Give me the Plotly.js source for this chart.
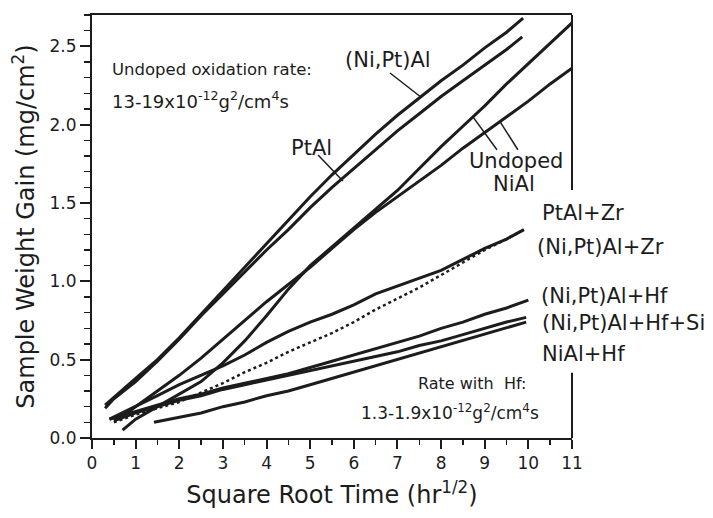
<!DOCTYPE html>
<html>
<head>
<meta charset="utf-8">
<script src="https://cdn.plot.ly/plotly-3.0.1.min.js"></script>
<style>html,body{margin:0;padding:0;background:#fff;}#chart{width:713px;height:518px;}</style>
</head>
<body>
<div id="chart"></div>
<script>
// (Ni,Pt)Al
const nptalX = [0.3,0.5,1,1.5,2,2.5,3,3.5,4,4.5,5,5.5,6,6.5,7,7.5,8,8.5,9,9.5,9.88];
const nptalY = [0.21,0.26,0.38,0.5,0.64,0.79,0.94,1.09,1.24,1.39,1.54,1.68,1.81,1.94,2.06,2.17,2.28,2.38,2.49,2.59,2.68];
// PtAl
const ptalX = [0.3,0.5,1,1.5,2,2.5,3,3.5,4,4.5,5,5.5,6,6.5,7,7.5,8,8.5,9,9.5,9.86];
const ptalY = [0.19,0.25,0.36,0.49,0.63,0.78,0.92,1.06,1.2,1.33,1.47,1.6,1.72,1.84,1.96,2.07,2.18,2.28,2.38,2.48,2.56];
// Undoped NiAl (steeper curve)
const niAl1X = [0.7,1,1.5,2,2.5,3,3.5,4,4.5,5,5.5,6,6.5,7,7.5,8,8.5,9,9.5,10,10.5,11];
const niAl1Y = [0.05,0.12,0.2,0.28,0.36,0.48,0.62,0.78,0.95,1.1,1.22,1.34,1.46,1.58,1.72,1.86,1.99,2.12,2.26,2.39,2.52,2.65];
// Undoped NiAl (second curve)
const niAl2X = [0.6,1,1.5,2,2.5,3,3.5,4,4.5,5,5.5,6,6.5,7,7.5,8,8.5,9,9.5,10,10.5,11];
const niAl2Y = [0.12,0.2,0.3,0.4,0.51,0.63,0.75,0.87,0.98,1.09,1.21,1.33,1.44,1.54,1.64,1.74,1.85,1.95,2.05,2.15,2.26,2.36];
// PtAl+Zr (solid)
const ptalZrX = [0.4,1,1.5,2,2.5,3,3.5,4,4.5,5,5.5,6,6.5,7,7.5,8,8.5,9,9.5,9.9];
const ptalZrY = [0.12,0.2,0.27,0.34,0.4,0.46,0.53,0.61,0.68,0.74,0.79,0.85,0.92,0.97,1.02,1.07,1.14,1.21,1.27,1.33];
// (Ni,Pt)Al+Zr (dotted)
const nptalZrX = [0.5,1,1.5,2,2.5,3,3.5,4,4.5,5,5.5,6,6.5,7,7.5,8,8.5,9,9.5,9.9];
const nptalZrY = [0.1,0.15,0.19,0.23,0.29,0.35,0.42,0.48,0.55,0.61,0.67,0.74,0.82,0.89,0.96,1.04,1.12,1.2,1.27,1.33];
// (Ni,Pt)Al+Hf
const nptalHfX = [0.4,1,1.5,2,2.5,3,3.5,4,4.5,5,5.5,6,6.5,7,7.5,8,8.5,9,9.5,10];
const nptalHfY = [0.12,0.17,0.21,0.25,0.28,0.32,0.35,0.38,0.41,0.45,0.49,0.53,0.57,0.61,0.65,0.7,0.74,0.79,0.83,0.88];
// (Ni,Pt)Al+Hf+Si
const nptalHfSiX = [0.5,1,1.5,2,2.5,3,3.5,4,4.5,5,5.5,6,6.5,7,7.5,8,8.5,9,9.5,9.95];
const nptalHfSiY = [0.11,0.16,0.2,0.24,0.27,0.31,0.34,0.37,0.4,0.43,0.46,0.49,0.52,0.55,0.59,0.62,0.66,0.7,0.74,0.77];
// NiAl+Hf
const niAlHfX = [1.42,2,2.5,3,3.5,4,4.5,5,5.5,6,6.5,7,7.5,8,8.5,9,9.5,9.95];
const niAlHfY = [0.1,0.13,0.16,0.2,0.23,0.27,0.3,0.34,0.38,0.42,0.46,0.5,0.54,0.58,0.62,0.66,0.7,0.74];

const xTicks = [0,1,2,3,4,5,6,7,8,9,10,11];
const yTicks = [0.0,0.5,1.0,1.5,2.0,2.5];

const ink = '#1c1c1c';
const FONT = 'DejaVu Sans, Liberation Sans, Arial, sans-serif';

function tr(x, y, dash, w) {
  return {x: x, y: y, type: 'scatter', mode: 'lines',
          line: {color: ink, width: w || 3, dash: dash || 'solid'},
          hoverinfo: 'skip', showlegend: false};
}

const data = [
  tr(nptalX, nptalY), tr(ptalX, ptalY),
  tr(niAl1X, niAl1Y), tr(niAl2X, niAl2Y),
  tr(nptalZrX, nptalZrY, 'dot', 2.5), tr(ptalZrX, ptalZrY),
  tr(nptalHfX, nptalHfY), tr(nptalHfSiX, nptalHfSiY), tr(niAlHfX, niAlHfY)
];

function ann(text, x, y, size, xanchor) {
  return {text: text, x: x, y: y, xref: 'x', yref: 'y', showarrow: false,
          xanchor: xanchor || 'center', yanchor: 'middle',
          font: {family: FONT, size: size, color: ink}};
}

const layout = {
  width: 713, height: 518,
  margin: {l: 92, r: 141, t: 15, b: 80},
  paper_bgcolor: '#ffffff', plot_bgcolor: '#ffffff',
  font: {family: FONT, color: ink},
  xaxis: {
    range: [0, 11], tickvals: xTicks, ticktext: xTicks.map(String),
    ticks: 'outside', ticklen: 9, tickwidth: 2, tickcolor: ink,
    minor: {dtick: 0.5, ticks: 'outside', ticklen: 5, tickwidth: 1.5, tickcolor: ink},
    showline: true, linewidth: 2, linecolor: ink, mirror: true,
    showgrid: false, zeroline: false,
    tickfont: {family: FONT, size: 17, color: ink},
    title: {text: 'Square Root Time (hr<sup>1/2</sup>)', font: {family: FONT, size: 24, color: ink}, standoff: 14}
  },
  yaxis: {
    range: [0, 2.7], tickvals: yTicks, ticktext: yTicks.map(v => v.toFixed(1)),
    ticks: 'outside', ticklen: 10, tickwidth: 2, tickcolor: ink,
    minor: {dtick: 0.1, ticks: 'outside', ticklen: 6, tickwidth: 1.5, tickcolor: ink},
    showline: true, linewidth: 2, linecolor: ink,
    showgrid: false, zeroline: false,
    tickfont: {family: FONT, size: 17, color: ink},
    title: {text: 'Sample Weight Gain (mg/cm<sup>2</sup>)', font: {family: FONT, size: 24, color: ink}, standoff: 8}
  },
  shapes: [
    // partial right frame
    {type: 'line', xref: 'paper', yref: 'paper', x0: 1, x1: 1, y0: 0.586, y1: 1, line: {color: ink, width: 2}},
    {type: 'line', xref: 'paper', yref: 'paper', x0: 1, x1: 1, y0: 0, y1: 0.154, line: {color: ink, width: 2}},
    // leader lines
    {type: 'line', xref: 'x', yref: 'y', x0: 6.83, y0: 2.33, x1: 7.52, y1: 2.18, line: {color: ink, width: 1.5}},
    {type: 'line', xref: 'x', yref: 'y', x0: 5.18, y0: 1.806, x1: 5.75, y1: 1.64, line: {color: ink, width: 1.5}},
    {type: 'line', xref: 'x', yref: 'y', x0: 8.73, y0: 2.05, x1: 9.28, y1: 1.84, line: {color: ink, width: 1.5}},
    {type: 'line', xref: 'x', yref: 'y', x0: 9.35, y0: 2.02, x1: 9.76, y1: 1.84, line: {color: ink, width: 1.5}}
  ],
  annotations: [
    ann('Undoped oxidation rate:', 0.41, 2.35, 16.5, 'left'),
    ann('13-19x10<sup>-12</sup>g<sup>2</sup>/cm<sup>4</sup>s', 0.41, 2.16, 18, 'left'),
    ann('(Ni,Pt)Al', 6.78, 2.41, 21),
    ann('PtAl', 5.02, 1.85, 21),
    ann('Undoped', 9.72, 1.77, 21),
    ann('NiAl', 9.67, 1.62, 21),
    ann('PtAl+Zr', 10.27, 1.436, 21, 'left'),
    ann('(Ni,Pt)Al+Zr', 10.15, 1.219, 21, 'left'),
    ann('(Ni,Pt)Al+Hf', 10.24, 0.906, 21, 'left'),
    ann('(Ni,Pt)Al+Hf+Si', 10.27, 0.734, 21, 'left'),
    ann('NiAl+Hf', 10.27, 0.536, 21, 'left'),
    ann('Rate with  Hf:', 8.71, 0.35, 16),
    ann('1.3-1.9x10<sup>-12</sup>g<sup>2</sup>/cm<sup>4</sup>s', 8.2, 0.166, 17)
  ]
};

Plotly.newPlot('chart', data, layout, {staticPlot: true, displayModeBar: false});
</script>
</body>
</html>
